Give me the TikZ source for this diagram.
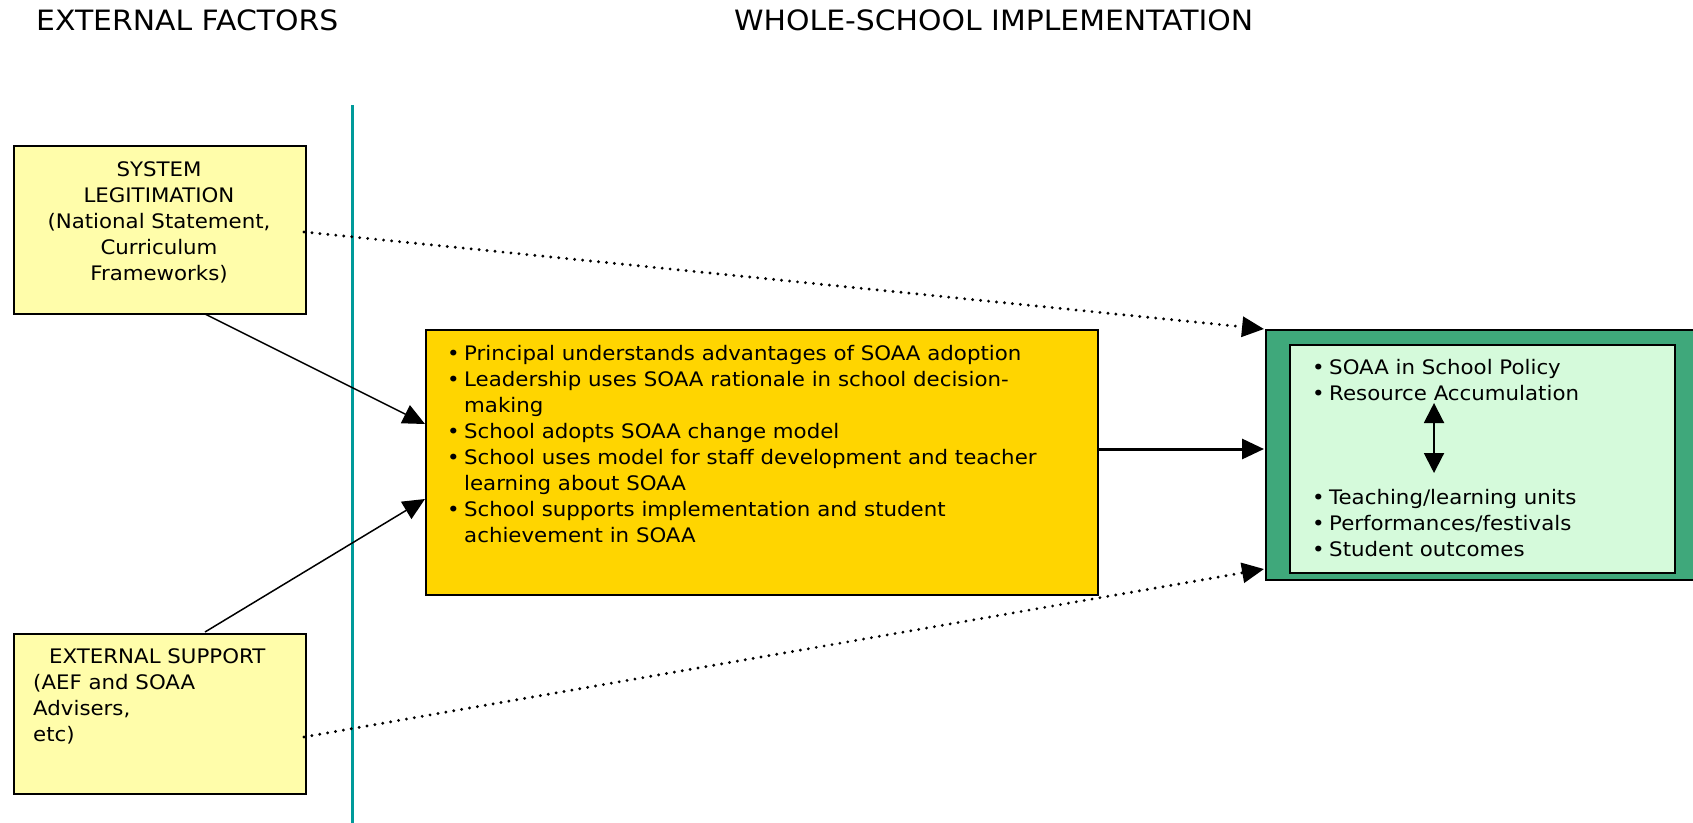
\documentclass[tikz,border=0pt]{standalone}
\usepackage{fontspec}
\setmainfont{DejaVu Sans}[FakeStretch=1.066]
\usetikzlibrary{arrows.meta}
\definecolor{paleyellow}{HTML}{FFFDAA}
\definecolor{gold}{HTML}{FFD500}
\definecolor{darkgreen}{HTML}{3FA87B}
\definecolor{palegreen}{HTML}{D5FADB}
\definecolor{tealline}{HTML}{009A9A}
\newcommand\bitem{\makebox[17pt][l]{•}}
\newcommand\bcont{\hspace*{17pt}}
\tikzset{
  box/.style={draw=black, line width=2pt, inner sep=0pt, anchor=north west},
  txt/.style={inner sep=0pt, font=\fontsize{20}{26}\selectfont},
  title/.style={inner sep=0pt, font=\fontsize{28}{32}\selectfont},
  conn/.style={line width=1.5pt, -{Triangle[length=22pt,width=20pt]}},
  dotconn/.style={line width=3.2pt, dash pattern=on 0pt off 8pt, line cap=round, -{Triangle[length=22pt,width=20pt]}},
  thickconn/.style={line width=3pt, -{Triangle[length=22pt,width=20pt]}},
}
\begin{document}
\begin{tikzpicture}[x=1pt,y=-1pt]
\useasboundingbox[fill=white] (0,0) rectangle (1693,822);
% titles
\node[title, anchor=west] (t1) at (36,20) {EXTERNAL FACTORS};
\node[title, anchor=west] (t2) at (734,20) {WHOLE-SCHOOL IMPLEMENTATION};
% teal line
\coordinate (vtop) at (352,105);
\coordinate (vbot) at (352,830);
\draw[tealline, line width=3pt] (vtop) -- (vbot);
% boxes
\node[box, fill=paleyellow, minimum width=292pt, minimum height=168pt] (sys) at (13,145) {};
\node[box, fill=paleyellow, minimum width=292pt, minimum height=160pt] (ext) at (13,633) {};
\node[box, fill=gold, minimum width=672pt, minimum height=265pt] (mid) at (425,329) {};
\node[box, fill=darkgreen, minimum width=460pt, minimum height=250pt] (out) at (1265,329) {};
\node[box, fill=palegreen, minimum width=385pt, minimum height=228pt] (in) at (1289,344) {};
% texts
\node[txt, anchor=north, align=center] (systxt) at (159,161) {SYSTEM\\LEGITIMATION\\(National Statement,\\Curriculum\\Frameworks)};
\node[txt, anchor=north west, align=left] (exttxt) at (33,648) {\hspace*{16pt}EXTERNAL SUPPORT\\(AEF and SOAA\\Advisers,\\etc)};
\node[txt, anchor=north west, align=left] (midtxt) at (447,345) {\bitem Principal understands advantages of SOAA adoption\\
\bitem Leadership uses SOAA rationale in school decision-\\
\bcont making\\
\bitem School adopts SOAA change model\\
\bitem School uses model for staff development and teacher\\
\bcont learning about SOAA\\
\bitem School supports implementation and student\\
\bcont achievement in SOAA};
\node[txt, anchor=north west, align=left] (intop) at (1312,359) {\bitem SOAA in School Policy\\\bitem Resource Accumulation};
\node[txt, anchor=north west, align=left] (inbot) at (1312,489) {\bitem Teaching/learning units\\\bitem Performances/festivals\\\bitem Student outcomes};
% connectors
\coordinate (sysr) at (304,232);
\coordinate (outtl) at (1264,329);
\coordinate (extr) at (304,737);
\coordinate (outbl) at (1264,569);
\coordinate (sysb) at (205,314);
\coordinate (midl1) at (425,424);
\coordinate (extt) at (205,632);
\coordinate (midl2) at (425,499);
\coordinate (midr) at (1097,449);
\coordinate (outl) at (1264,449);
\draw[dotconn] (sysr) -- (outtl);
\draw[dotconn] (extr) -- (outbl);
\draw[conn] (sysb) -- (midl1);
\draw[conn] (extt) -- (midl2);
\draw[thickconn] (midr) -- (outl);
\coordinate (da) at (1434,403);
\coordinate (db) at (1434,473);
\draw[line width=2pt, {Triangle[length=20pt,width=20pt]}-{Triangle[length=20pt,width=20pt]}] (da) -- (db);
\end{tikzpicture}
\end{document}
